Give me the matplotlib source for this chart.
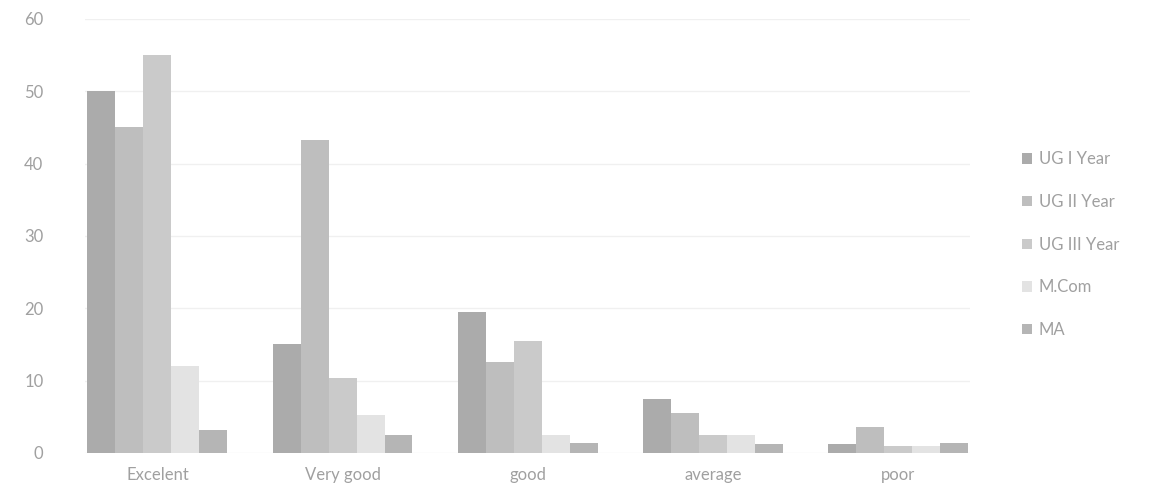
import matplotlib
matplotlib.use("Agg")
import matplotlib.pyplot as plt
import numpy as np

categories = ["Excelent", "Very good", "good", "average", "poor"]
series_names = ["UG I Year", "UG II Year", "UG III Year", "M.Com", "MA"]
ug1 = [50, 15, 19.5, 7.5, 1.2]
ug2 = [45, 43.3, 12.5, 5.5, 3.6]
ug3 = [55, 10.3, 15.5, 2.5, 1.0]
mcom = [12, 5.3, 2.5, 2.5, 1.0]
ma = [3.2, 2.4, 1.4, 1.2, 1.3]
yticks = [0, 10, 20, 30, 40, 50, 60]

series = [ug1, ug2, ug3, mcom, ma]
colors = ["#ababab", "#bebebe", "#cacaca", "#e3e3e3", "#b5b5b5"]

plt.rcParams['font.family'] = ['Lato', 'DejaVu Sans']
fig = plt.figure(figsize=(11.51, 4.96), dpi=100)
ax = fig.add_axes([0.074, 0.087, 0.769, 0.875])
x = np.arange(len(categories))
w = 0.151
for i, (vals, name, c) in enumerate(zip(series, series_names, colors)):
    ax.bar(x + (i - 2) * w, vals, width=w, color=c, label=name, zorder=2)

ax.set_ylim(0, 60)
ax.set_xlim(-0.39, 4.39)
ax.set_yticks(yticks)
ax.set_xticks(x)
ax.set_xticklabels(categories)
ax.yaxis.grid(True, color="#f0f0f0", linewidth=1, zorder=0)
ax.set_axisbelow(True)
for s in ax.spines.values():
    s.set_visible(False)
ax.tick_params(axis='both', length=0, colors="#a0a0a0", labelsize=12)
ax.tick_params(axis='x', pad=10)
ax.tick_params(axis='y', pad=30)

leg = fig.legend(loc='upper left', bbox_to_anchor=(0.875, 0.725), frameon=False,
                 labelspacing=1.6, handlelength=0.6, handleheight=0.6,
                 handletextpad=0.4, fontsize=12)
for t in leg.get_texts():
    t.set_color("#a0a0a0")

fig.savefig("out.png", dpi=100, facecolor="white")
